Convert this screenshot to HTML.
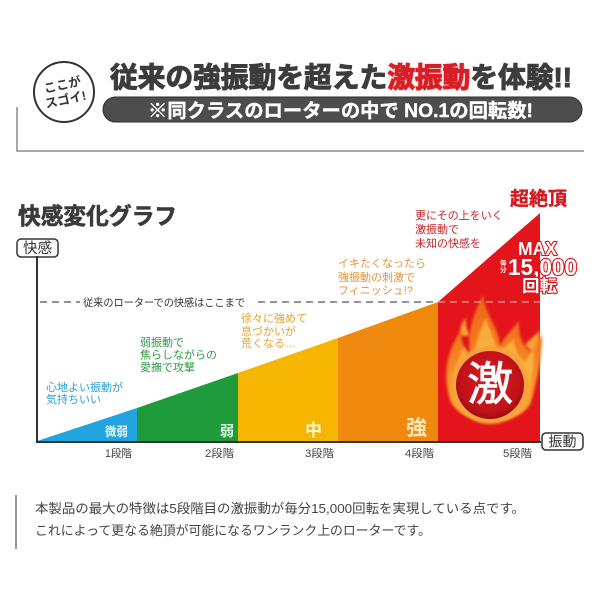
<!DOCTYPE html>
<html>
<head>
<meta charset="utf-8">
<style>
  html,body{margin:0;padding:0;background:#fff;}
  svg{display:block;}
  .jp{font-family:"Liberation Sans","Noto Sans CJK JP",sans-serif;}
</style>
</head>
<body>
<svg width="600" height="600" viewBox="0 0 600 600" xmlns="http://www.w3.org/2000/svg" class="jp">
  <defs>
    <radialGradient id="core" cx="50%" cy="45%" r="55%">
      <stop offset="0%" stop-color="#e2191f"/>
      <stop offset="80%" stop-color="#c0121a"/>
      <stop offset="100%" stop-color="#9c0c12"/>
    </radialGradient>
    <linearGradient id="flame" x1="0" y1="1" x2="0" y2="0">
      <stop offset="0%" stop-color="#fbb03b"/>
      <stop offset="60%" stop-color="#f47a1f"/>
      <stop offset="100%" stop-color="#f0641c"/>
    </linearGradient>
    <filter id="soft" x="-20%" y="-20%" width="140%" height="140%">
      <feGaussianBlur stdDeviation="1.2"/>
    </filter>
    <filter id="glow" x="-10%" y="-30%" width="120%" height="160%">
      <feGaussianBlur stdDeviation="1.5"/>
    </filter>
  </defs>

  <rect width="600" height="600" fill="#fff"/>

  <!-- Header -->
  <circle cx="64" cy="92" r="30" fill="#fff" stroke="#333" stroke-width="2"/>
  <g transform="rotate(-12 64 92)" font-weight="bold" font-size="12.5" fill="#333">
    <text x="64" y="89" text-anchor="middle">ここが</text>
    <text x="64" y="104" text-anchor="middle">スゴイ!</text>
  </g>

  <!-- bracket line -->
  <path d="M17,107 L17,151 L584,151" fill="none" stroke="#8a8a8a" stroke-width="1.5"/>

  <!-- title glow for red part -->
  <text x="110" y="87" font-size="28" font-weight="bold" textLength="462" lengthAdjust="spacingAndGlyphs" fill="none" stroke="none">
    <tspan fill="none">従来の強振動を超えた</tspan><tspan fill="#ff6a6a" filter="url(#glow)" opacity="0.6">激振動</tspan><tspan fill="none">を体験!!</tspan>
  </text>
  <text x="110" y="87" font-size="28" font-weight="bold" textLength="462" lengthAdjust="spacingAndGlyphs" fill="#3c3c3c" stroke="#3c3c3c" stroke-width="1.1">従来の強振動を超えた<tspan fill="#d81f27" stroke="#d81f27">激振動</tspan>を体験!!</text>

  <!-- pill -->
  <rect x="103" y="97" width="479" height="25" rx="12.5" ry="12.5" fill="#4d4d4d" stroke="#2e2e2e" stroke-width="1"/>
  <text x="148" y="117" font-size="19" font-weight="bold" fill="#fff" stroke="#fff" stroke-width="0.4" textLength="385" lengthAdjust="spacingAndGlyphs">※同クラスのローターの中で NO.1の回転数!</text>

  <!-- Chart title -->
  <text x="18" y="224" font-size="23" font-weight="bold" fill="#3a3a3a" stroke="#3a3a3a" stroke-width="0.6" textLength="159" lengthAdjust="spacingAndGlyphs">快感変化グラフ</text>

  <!-- Y label box -->
  <rect x="17" y="239" width="41" height="18" rx="4" ry="4" fill="#fff" stroke="#333" stroke-width="1.5"/>
  <text x="37.5" y="253" font-size="14.5" fill="#333" text-anchor="middle">快感</text>

  <!-- Colored areas -->
  <polygon points="37,441 137,408 137,441" fill="#22a5df"/>
  <polygon points="137,408 238,373 238,441 137,441" fill="#1f9b3c"/>
  <polygon points="238,373 338,338 338,441 238,441" fill="#f6b500"/>
  <polygon points="338,338 438,302 438,441 338,441" fill="#f08a0e"/>
  <polygon points="438,302 540,213 540,441 438,441" fill="#e3151b"/>

  <!-- Fire -->
  <g>
    <path d="M450,400 C442,372 448,350 461,330 C461,344 465,350 470,353 C467,331 474,313 483,295 C486,317 499,327 500,346 C505,336 512,330 519,321 C518,338 524,347 531,352 C534,343 538,339 542,336 C542,357 538,376 531,402 C520,428 462,428 450,400 Z" fill="url(#flame)" filter="url(#soft)"/>
    <path d="M462,336 C458,330 462,322 466,318 C465,326 468,332 470,336 Z" fill="#f7a030" filter="url(#soft)"/>
    <path d="M525,345 C530,338 536,336 540,330 C540,340 536,348 532,352 Z" fill="#f7a030" filter="url(#soft)"/>
    <path d="M458,398 C452,378 456,360 465,346 C466,356 470,360 474,362 C474,345 480,330 486,318 C490,334 498,342 497,356 C503,348 510,344 514,338 C514,350 520,358 525,362 C528,356 532,352 534,350 C534,368 531,384 526,400 C514,420 468,420 458,398 Z" fill="#fbc04a" opacity="0.75" filter="url(#soft)"/>
    <circle cx="490" cy="385" r="39" fill="#f7a33a" filter="url(#soft)"/>
    <circle cx="490" cy="385" r="34" fill="url(#core)"/>
  </g>
  <text x="490" y="400" font-size="46" fill="#fff" stroke="#fff" stroke-width="0.8" text-anchor="middle">激</text>

  <!-- Axes -->
  <line x1="37" y1="256" x2="37" y2="442" stroke="#333" stroke-width="2"/>
  <line x1="36" y1="442" x2="541" y2="442" stroke="#333" stroke-width="2"/>

  <!-- dashed line -->
  <line x1="40" y1="302" x2="80" y2="302" stroke="#555" stroke-width="1.3" stroke-dasharray="7,5"/>
  <line x1="258" y1="302" x2="438" y2="302" stroke="#555" stroke-width="1.3" stroke-dasharray="7,5"/>
  <line x1="438" y1="302" x2="545" y2="302" stroke="#dca2a2" stroke-width="1.3" stroke-dasharray="7,5" stroke-dashoffset="0"/>
  <text x="83" y="306" font-size="10.5" fill="#333" textLength="162" lengthAdjust="spacingAndGlyphs">従来のローターでの快感はここまで</text>

  <!-- X label box -->
  <rect x="542" y="433" width="41" height="17" rx="4" ry="4" fill="#fff" stroke="#333" stroke-width="1.5"/>
  <text x="562.5" y="446.5" font-size="14" fill="#333" text-anchor="middle">振動</text>

  <!-- in-area labels -->
  <text x="105" y="436" font-size="12.5" font-weight="bold" fill="#eaf6ff" textLength="23" lengthAdjust="spacingAndGlyphs">微弱</text>
  <text x="220" y="436" font-size="14" font-weight="bold" fill="#e8ffe8">弱</text>
  <text x="305" y="436" font-size="17" font-weight="bold" fill="#fff6d0">中</text>
  <text x="406" y="435" font-size="21" font-weight="bold" fill="#ffe6b8">強</text>

  <!-- ticks -->
  <g font-size="11" fill="#444">
    <text x="105" y="457" textLength="27" lengthAdjust="spacingAndGlyphs">1段階</text>
    <text x="205" y="457" textLength="29" lengthAdjust="spacingAndGlyphs">2段階</text>
    <text x="305" y="457" textLength="29" lengthAdjust="spacingAndGlyphs">3段階</text>
    <text x="405" y="457" textLength="29" lengthAdjust="spacingAndGlyphs">4段階</text>
    <text x="503" y="457" textLength="29" lengthAdjust="spacingAndGlyphs">5段階</text>
  </g>

  <!-- annotations -->
  <g font-size="11">
    <g fill="#2a9fd6">
      <text x="46" y="391">心地よい振動が</text>
      <text x="46" y="403">気持ちいい</text>
    </g>
    <g fill="#2e9a42">
      <text x="140" y="346">弱振動で</text>
      <text x="140" y="358.5">焦らしながらの</text>
      <text x="140" y="371">愛撫で攻撃</text>
    </g>
    <g fill="#e8a024">
      <text x="241" y="322">徐々に強めて</text>
      <text x="241" y="335">息づかいが</text>
      <text x="241" y="347">荒くなる…</text>
    </g>
    <g fill="#e0963a">
      <text x="338" y="267">イキたくなったら</text>
      <text x="338" y="281">強振動の刺激で</text>
      <text x="338" y="294">フィニッシュ!?</text>
    </g>
    <g fill="#c9222b">
      <text x="415" y="219">更にその上をいく</text>
      <text x="415" y="233">激振動で</text>
      <text x="415" y="247">未知の快感を</text>
    </g>
  </g>

  <!-- peak labels -->
  <text x="510" y="205" font-size="19" font-weight="bold" fill="#d41920" stroke="#d41920" stroke-width="0.4" textLength="57" lengthAdjust="spacingAndGlyphs">超絶頂</text>
  <g font-weight="bold" fill="#fff" stroke="#d8141c" stroke-width="2.2" paint-order="stroke" stroke-linejoin="round">
    <text x="518" y="255" font-size="18" textLength="39" lengthAdjust="spacingAndGlyphs">MAX</text>
    <text x="508" y="275" font-size="23.5" textLength="69" lengthAdjust="spacingAndGlyphs">15,000</text>
    <text x="522" y="291.5" font-size="16.5" textLength="35" lengthAdjust="spacingAndGlyphs">回転</text>
  </g>
  <g font-size="6.5" font-weight="bold" fill="#fff">
    <text x="500" y="265">毎</text>
    <text x="500" y="272">分</text>
  </g>

  <!-- bottom note -->
  <line x1="16" y1="495" x2="16" y2="549" stroke="#999" stroke-width="2"/>
  <text x="35" y="513" font-size="13" fill="#444" textLength="490" lengthAdjust="spacingAndGlyphs">本製品の最大の特徴は5段階目の激振動が毎分15,000回転を実現している点です。</text>
  <text x="35" y="535" font-size="13" fill="#444" textLength="396" lengthAdjust="spacingAndGlyphs">これによって更なる絶頂が可能になるワンランク上のローターです。</text>
</svg>
</body>
</html>
